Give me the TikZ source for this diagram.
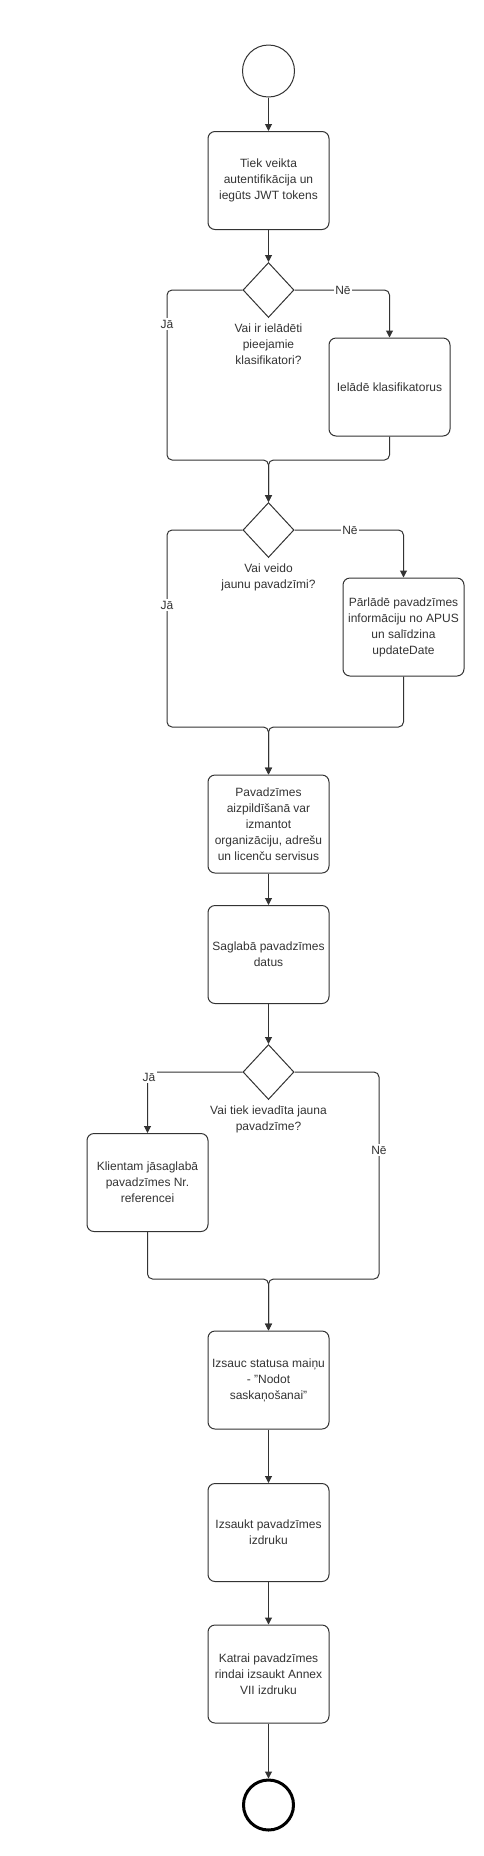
\documentclass[tikz,border=0pt]{standalone}
\usepackage{fontspec}
\setmainfont{Liberation Sans}
\usetikzlibrary{positioning,shapes.geometric,arrows.meta}
\definecolor{linegray}{HTML}{333333}
\tikzset{
  task node/.style={rectangle,rounded corners=7pt,draw=linegray,line width=1pt,minimum width=121pt,minimum height=98pt,align=center,inner sep=2pt,text=linegray,font=\fontsize{12}{16}\selectfont},
  decision node/.style={diamond,draw=linegray,line width=1pt,minimum width=51pt,minimum height=55pt,inner sep=0pt},
  start node/.style={circle,draw=linegray,line width=1pt,minimum size=52pt,inner sep=0pt},
  end node/.style={circle,draw=black,line width=3pt,minimum size=50pt,inner sep=0pt},
  question/.style={align=center,anchor=north,yshift=-6pt,inner sep=0pt,text=linegray,font=\fontsize{12}{16}\selectfont},
  branch/.style={fill=white,inner sep=1.5pt,text=linegray,font=\fontsize{12}{16}\selectfont},
  flow/.style={draw=linegray,line width=1pt,rounded corners=5pt,-{Triangle[width=7pt,length=7pt]}}
}

\begin{document}
\begin{tikzpicture}[x=1pt,y=1pt]
\useasboundingbox (0,0) rectangle (484,-1856);
\begin{scope}[on grid]

  \node[start node] (start) at (268.5,-71) {};
  \node[task node] (b1) [below=109.5pt of start] {Tiek veikta\\autentifikācija un\\iegūts JWT tokens};
  \node[decision node] (d1) [below=109.5pt of b1] {};
  \node[task node] (b2) [below right=97pt and 121pt of d1] {Ielādē klasifikatorus};
  \node[decision node] (d2) [below=240pt of d1] {};
  \node[task node] (b3) [below right=97pt and 135pt of d2] {Pārlādē pavadzīmes\\informāciju no APUS\\un salīdzina\\updateDate};
  \node[task node] (b4) [below=294pt of d2] {Pavadzīmes\\aizpildīšanā var\\izmantot\\organizāciju, adrešu\\un licenču servisus};
  \node[task node] (b5) [below=130.5pt of b4] {Saglabā pavadzīmes\\datus};
  \node[decision node] (d3) [below=117.5pt of b5] {};
  \node[task node] (b6) [below left=110.5pt and 121pt of d3] {Klientam jāsaglabā\\pavadzīmes Nr.\\referencei};
  \node[task node] (b7) [below=308pt of d3] {Izsauc statusa maiņu\\- "Nodot\\saskaņošanai"};
  \node[task node] (b8) [below=152.5pt of b7] {Izsaukt pavadzīmes\\izdruku};
  \node[task node] (b9) [below=141.5pt of b8] {Katrai pavadzīmes\\rindai izsaukt Annex\\VII izdruku};
  \node[end node] (end) [below=131pt of b9] {};

  % questions under the diamonds
  \node[question] (q1) at (d1.south) {Vai ir ielādēti\\pieejamie\\klasifikatori?};
  \node[question] (q2) at (d2.south) {Vai veido\\jaunu pavadzīmi?};
  \node[question] (q3) at (d3.south) {Vai tiek ievadīta jauna\\pavadzīme?};

  % merge points
  \coordinate (jl1) at (167,-460);
  \coordinate (m1) at (268.5,-460);
  \coordinate (jl2) at (167,-727);
  \coordinate (m2) at (268.5,-727);
  \coordinate (jr3) at (379,-1279);
  \coordinate (m3) at (268.5,-1279);

  \draw[flow] (start) -- (b1);
  \draw[flow] (b1) -- (d1);
  \draw[flow] (d1.west) -| (jl1) -- (m1) -- (d2.north);
  \draw[flow] (d1.east) -| (b2.north);
  \draw[flow] (b2.south) |- (m1) -- (d2.north);

  \draw[flow] (d2.west) -| (jl2) -- (m2) -- (b4.north);
  \draw[flow] (d2.east) -| (b3.north);
  \draw[flow] (b3.south) |- (m2) -- (b4.north);

  \draw[flow] (b4) -- (b5);
  \draw[flow] (b5) -- (d3);
  \draw[flow] (d3.west) -| (b6.north);
  \draw[flow] (d3.east) -| (jr3) -- (m3) -- (b7.north);
  \draw[flow] (b6.south) |- (m3) -- (b7.north);

  \draw[flow] (b7) -- (b8);
  \draw[flow] (b8) -- (b9);
  \draw[flow] (b9) -- (end);

  % branch labels
  \node[branch] (ja1) at (167,-324) {Jā};
  \node[branch] (ne1) at (343,-290) {Nē};
  \node[branch] (ja2) at (167,-605) {Jā};
  \node[branch] (ne2) at (350,-530) {Nē};
  \node[branch] (ja3) at (149,-1077) {Jā};
  \node[branch] (ne3) at (379,-1150) {Nē};

\end{scope}
\end{tikzpicture}
\end{document}
